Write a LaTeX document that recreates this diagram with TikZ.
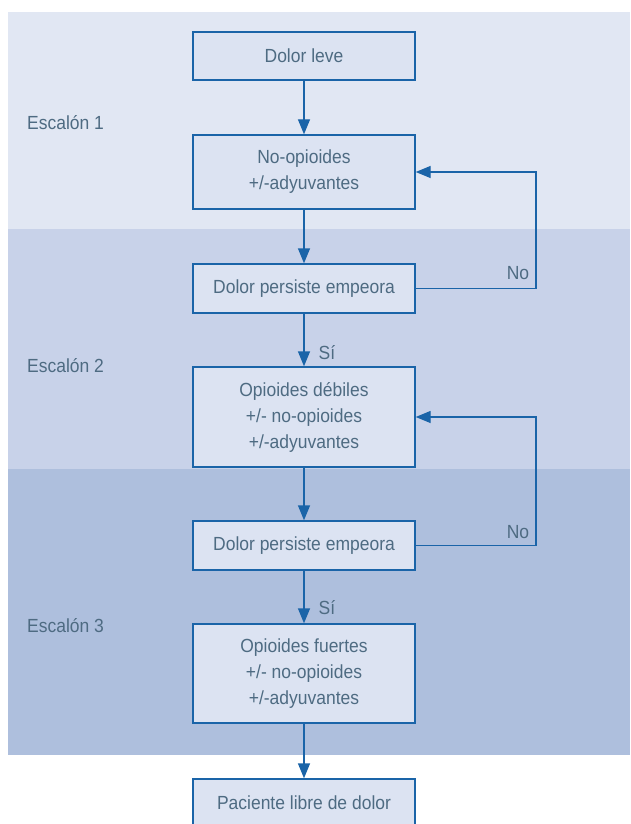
\documentclass[tikz,border=0pt]{standalone}
\usepackage{fontspec}
\setmainfont[FakeStretch=0.92]{Liberation Sans}
\usetikzlibrary{arrows.meta}
\definecolor{bandA}{HTML}{E1E7F3}
\definecolor{bandB}{HTML}{C8D2E9}
\definecolor{bandC}{HTML}{AEBFDD}
\definecolor{boxfill}{HTML}{DCE3F2}
\definecolor{lineblue}{HTML}{1A64A8}
\definecolor{txt}{HTML}{4E6B82}
\begin{document}
\begin{tikzpicture}[x=1pt,y=-1pt,
  boxnode/.style={draw=lineblue, fill=boxfill, line width=1.4pt, minimum width=222pt,
    align=center, inner sep=0pt, text=txt, font=\fontsize{19}{26}\selectfont},
  lbl/.style={text=txt, inner sep=0pt, font=\fontsize{19}{26}\selectfont},
  arr/.style={draw=lineblue, line width=1.4pt, -{Triangle[length=15pt,width=12pt]}},
  ln/.style={draw=lineblue, line width=1.4pt}]
\useasboundingbox (0,0) rectangle (630,824);
\clip (0,0) rectangle (630,824);
\fill[bandA] (8,12) rectangle (630,229);
\fill[bandB] (8,229) rectangle (630,469);
\fill[bandC] (8,469) rectangle (630,755);
\node[lbl, anchor=west] (e1) at (27,123) {Escalón 1};
\node[lbl, anchor=west] (e2) at (27,366) {Escalón 2};
\node[lbl, anchor=west] (e3) at (27,626) {Escalón 3};
\node[boxnode, minimum height=48pt] (n1) at (304,56) {Dolor leve};
\node[boxnode, minimum height=74pt] (n2) at (304,172) {No-opioides\\+/-adyuvantes};
\node[boxnode, minimum height=49pt] (n3) at (304,288.5) {Dolor persiste empeora};
\node[boxnode, minimum height=100pt] (n4) at (304,417) {Opioides débiles\\+/- no-opioides\\+/-adyuvantes};
\node[boxnode, minimum height=49pt] (n5) at (304,545.5) {Dolor persiste empeora};
\node[boxnode, minimum height=99pt] (n6) at (304,673.5) {Opioides fuertes\\+/- no-opioides\\+/-adyuvantes};
\node[boxnode, minimum height=60pt] (n7) at (304,809) {};
\node[lbl] (t7) at (304,803) {Paciente libre de dolor};
\coordinate (r1) at (536,288.5);
\coordinate (r2) at (536,545.5);
\draw[arr] (n1) -- (n2);
\draw[arr] (n2) -- (n3);
\draw[arr] (n3) -- (n4);
\draw[arr] (n4) -- (n5);
\draw[arr] (n5) -- (n6);
\draw[arr] (n6) -- (n7);
\draw[arr] (n3.east) -- (r1) |- (n2.east);
\draw[arr] (n5.east) -- (r2) |- (n4.east);
\node[lbl] (no1) at (518,273) {No};
\node[lbl] (no2) at (518,532) {No};
\node[lbl] (si1) at (327,353) {Sí};
\node[lbl] (si2) at (327,608) {Sí};
\end{tikzpicture}
\end{document}
